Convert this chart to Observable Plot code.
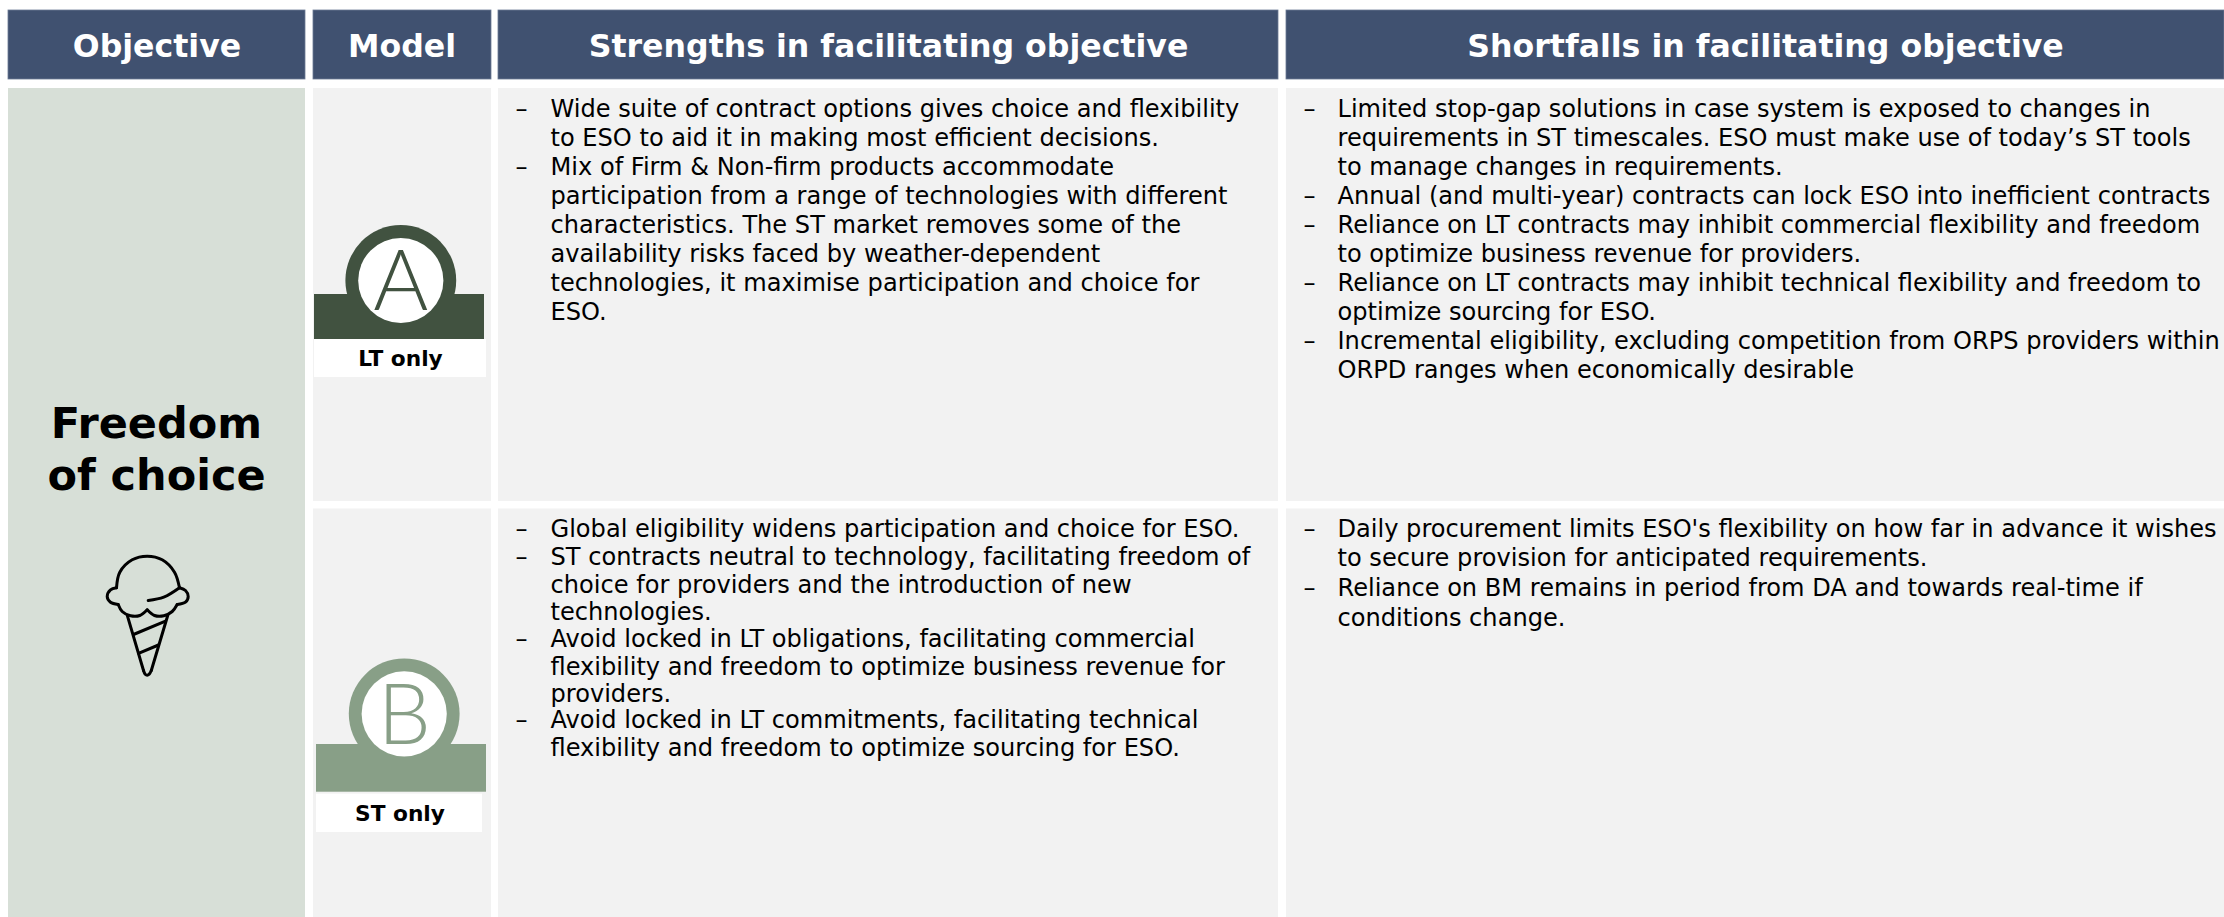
<!DOCTYPE html>
<html><head><meta charset="utf-8">
<script src="https://cdn.jsdelivr.net/npm/d3@7"></script>
<script src="https://cdn.jsdelivr.net/npm/@observablehq/plot@0.6"></script>
<style>html,body{margin:0;padding:0;background:#fff;overflow:hidden}svg{display:block}</style>
</head><body><div id="chart"></div>
<script>
// ---------- content ----------
const headers = ["Objective", "Model", "Strengths in facilitating objective", "Shortfalls in facilitating objective"];
const objectiveLines = ["Freedom", "of choice"];
const modelLetters = ["A", "B"];
const modelLabels = ["LT only", "ST only"];
const strengthsLT = [
  ["Wide suite of contract options gives choice and flexibility", "to ESO to aid it in making most efficient decisions."],
  ["Mix of Firm & Non-firm products accommodate", "participation from a range of technologies with different", "characteristics. The ST market removes some of the", "availability risks faced by weather-dependent", "technologies, it maximise participation and choice for", "ESO."]
];
const shortfallsLT = [
  ["Limited stop-gap solutions in case system is exposed to changes in", "requirements in ST timescales. ESO must make use of today’s ST tools", "to manage changes in requirements."],
  ["Annual (and multi-year) contracts can lock ESO into inefficient contracts"],
  ["Reliance on LT contracts may inhibit commercial flexibility and freedom", "to optimize business revenue for providers."],
  ["Reliance on LT contracts may inhibit technical flexibility and freedom to", "optimize sourcing for ESO."],
  ["Incremental eligibility, excluding competition from ORPS providers within", "ORPD ranges when economically desirable"]
];
const strengthsST = [
  ["Global eligibility widens participation and choice for ESO."],
  ["ST contracts neutral to technology, facilitating freedom of", "choice for providers and the introduction of new", "technologies."],
  ["Avoid locked in LT obligations, facilitating commercial", "flexibility and freedom to optimize business revenue for", "providers."],
  ["Avoid locked in LT commitments, facilitating technical", "flexibility and freedom to optimize sourcing for ESO."]
];
const shortfallsST = [
  ["Daily procurement limits ESO's flexibility on how far in advance it wishes", "to secure provision for anticipated requirements."],
  ["Reliance on BM remains in period from DA and towards real-time if", "conditions change."]
];

// ---------- icon outline (traced) ----------
const iconCurves = [
  [[116,587.3],[119.3,571.7],[131.7,559.3],[146.7,555.7],[161.7,559.3],[174,571.7],[179,587.3]],
  [[179,587.3],[185,590],[187.7,596],[185,601.7],[176.7,604]],
  [[116,587.3],[110,589.3],[106.7,596],[110,601.7],[117.7,604]],
  [[117.7,604],[121.7,611],[130,615.3],[139.3,615],[146.7,609.3]],
  [[146.7,609.3],[154,615],[163.3,615.3],[171.7,611],[176.7,604]],
  [[147.7,600],[163.3,596.7],[179,587.3]],
  [[143,670],[144.7,673.7],[146.7,674.7],[148.7,673.7],[150.8,670]]
];
const iconStraights = [
  [[126.7,614.7],[143,670]],
  [[167.3,614.7],[150.8,670]],
  [[133,634],[165,620.7]],
  [[138,652.8],[158,644.5]]
];

// ---------- layout ----------
const font = "'DejaVu Sans', Verdana, sans-serif";
const navy = "#405170", cellGrey = "#f2f2f2", sage = "#d7dfd7", dark = "#415240", mid = "#889f87";
const cols = [[8,305],[313,491],[498,1278],[1286,2224]];
const row1 = [88,501], row2 = [508.5,917];
const headerY = [10,79];
const headerCentres = [156.5,401.5,888,1765];

const blocks = [
  {bullets: strengthsLT, dash: 515, text: 550, ys: [108.5,137.5,166.5,195.5,224.5,253.5,282.5,311.5]},
  {bullets: shortfallsLT, dash: 1303, text: 1337, ys: [108.5,137.5,166.5,195.5,224.5,253.5,282.5,311.5,340.5,369.5]},
  {bullets: strengthsST, dash: 515, text: 550, ys: [528.5,557,584.5,611.5,639,666.5,693.5,720,748]},
  {bullets: shortfallsST, dash: 1303, text: 1337, ys: [528.5,557.5,588,617.5]}
];
const textLines = [], dashes = [];
for (const b of blocks) {
  let i = 0;
  for (const bullet of b.bullets) {
    bullet.forEach((line, j) => {
      if (j === 0) dashes.push({x: b.dash, y: b.ys[i]});
      textLines.push({x: b.text, y: b.ys[i], line});
      i++;
    });
  }
}

const headerRects = cols.map(([a,b],i) => ({x1:a,x2:b,y1:headerY[0],y2:headerY[1],label:headers[i],cx:headerCentres[i]}));
const greyRects = [];
for (const c of cols.slice(1)) for (const r of [row1,row2]) greyRects.push({x1:c[0],x2:c[1],y1:r[0],y2:r[1]});
const badges = [
  {cx:400.3, cy:280, bx1:314, bx2:484, by1:294, by2:339, lx1:314, lx2:486, ly1:339, ly2:377, color:dark, letter:modelLetters[0], label:modelLabels[0], tx:400, ty:358.5},
  {cx:403.7, cy:713.3, bx1:316, bx2:486, by1:744, by2:791.7, lx1:316, lx2:482, ly1:793.7, ly2:832, color:mid, letter:modelLetters[1], label:modelLabels[1], tx:399.5, ty:813.5}
];
const iconOpts = {x:d=>d[0], y:d=>d[1], fill:"none", stroke:"#000", strokeWidth:3, strokeLinejoin:"round", strokeLinecap:"round"};

const plot = Plot.plot({
  width:2224, height:917, margin:0,
  x:{domain:[0,2224], range:[0,2224], axis:null},
  y:{domain:[0,917], range:[0,917], axis:null},
  style:{background:"#fff", fontFamily:font},
  marks:[
    Plot.rect(headerRects,{x1:"x1",x2:"x2",y1:"y1",y2:"y2",fill:navy,stroke:"#6b7a95",strokeWidth:0.8}),
    Plot.text(headerRects,{x:"cx",y:46.5,text:"label",fill:"#fff",fontWeight:"bold",fontSize:31.6,fontFamily:font}),
    Plot.rect([{x1:cols[0][0],x2:cols[0][1],y1:row1[0],y2:row2[1]}],{x1:"x1",x2:"x2",y1:"y1",y2:"y2",fill:sage}),
    Plot.rect(greyRects,{x1:"x1",x2:"x2",y1:"y1",y2:"y2",fill:cellGrey}),
    Plot.text(objectiveLines,{x:156,y:(d,i)=>424+i*52,text:d=>d,fontWeight:"bold",fontSize:43,fill:"#000",fontFamily:font}),
    ...iconCurves.map(c=>Plot.line(c,{...iconOpts,curve:"catmull-rom"})),
    ...iconStraights.map(c=>Plot.line(c,iconOpts)),
    Plot.dot(badges,{x:"cx",y:"cy",r:55.4,fill:"color",stroke:"none"}),
    Plot.rect(badges,{x1:"bx1",x2:"bx2",y1:"by1",y2:"by2",fill:"color"}),
    Plot.dot(badges,{x:"cx",y:"cy",r:42.6,fill:"#fff",stroke:"none"}),
    Plot.text(badges,{x:"cx",y:"cy",dy:3,text:"letter",fill:"color",fontSize:84,fontWeight:300,fontFamily:"Lato, 'Open Sans', sans-serif"}),
    Plot.rect(badges,{x1:"lx1",x2:"lx2",y1:"ly1",y2:"ly2",fill:"#fff"}),
    Plot.text(badges,{x:"tx",y:"ty",text:"label",fill:"#000",fontWeight:"bold",fontSize:21.7,fontFamily:font}),
    Plot.text(dashes,{x:"x",y:"y",text:()=>"–",textAnchor:"start",fontSize:24.1,fill:"#000",fontFamily:font}),
    Plot.text(textLines,{x:"x",y:"y",text:"line",textAnchor:"start",fontSize:24.1,fill:"#000",fontFamily:font})
  ]
});
document.getElementById("chart").appendChild(plot);
</script></body></html>
